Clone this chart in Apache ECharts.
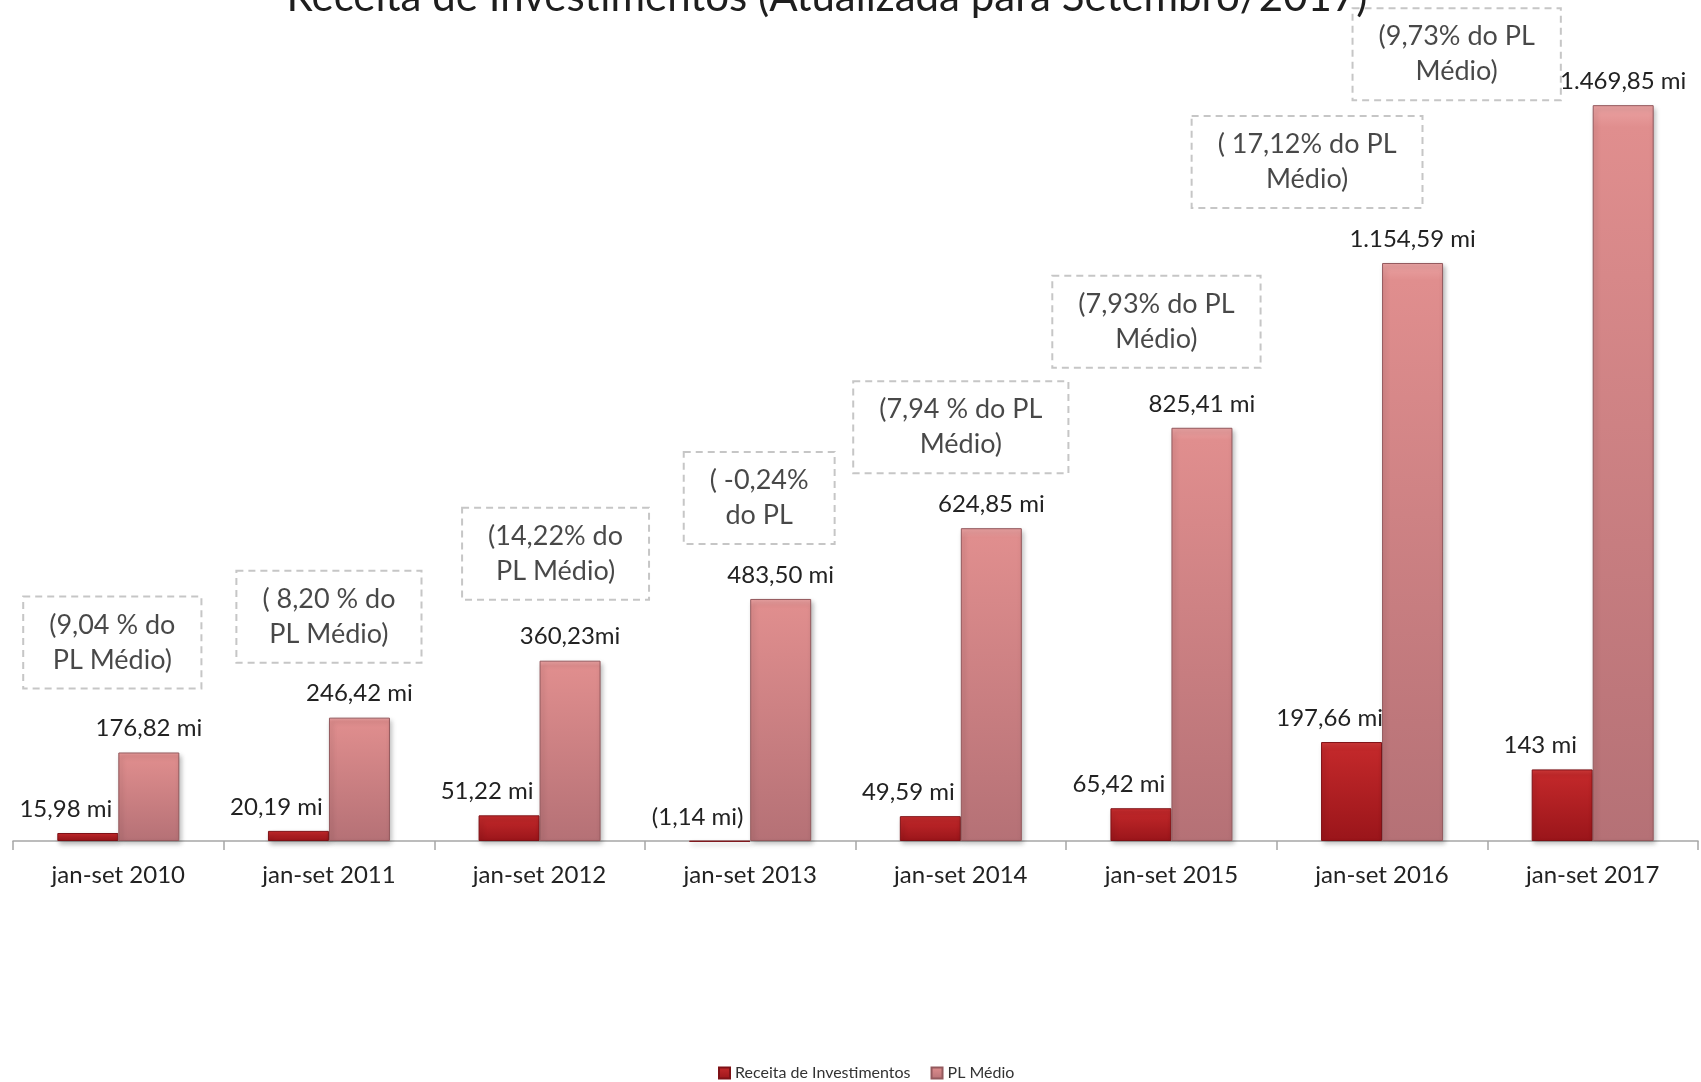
<!DOCTYPE html>
<html>
<head>
<meta charset="utf-8">
<script src="https://cdn.jsdelivr.net/npm/echarts@6/dist/echarts.min.js"></script>
<style>
  html, body { margin: 0; padding: 0; background: #fff; }
  #chart { width: 1701px; height: 1082px; }
</style>
</head>
<body>
<div id="chart"></div>
<script>
// dados (milhões de R$)
const categories = ['jan-set 2010', 'jan-set 2011', 'jan-set 2012', 'jan-set 2013',
  'jan-set 2014', 'jan-set 2015', 'jan-set 2016', 'jan-set 2017']
const receita = [15.98, 20.19, 51.22, -1.14, 49.59, 65.42, 197.66, 143]
const plMedio = [176.82, 246.42, 360.23, 483.50, 624.85, 825.41, 1154.59, 1469.85]
const receitaLabels = ['15,98 mi', '20,19 mi', '51,22 mi', '(1,14 mi)', '49,59 mi', '65,42 mi', '197,66 mi', '143 mi']
const plLabels = ['176,82 mi', '246,42 mi', '360,23mi', '483,50 mi', '624,85 mi', '825,41 mi', '1.154,59 mi', '1.469,85 mi']
const notes = [
  '(9,04 % do\nPL Médio)',
  '( 8,20 % do\nPL Médio)',
  '(14,22% do\nPL Médio)',
  '( -0,24%\ndo PL',
  '(7,94 % do PL\nMédio)',
  '(7,93% do PL\nMédio)',
  '( 17,12% do PL\nMédio)',
  '(9,73% do PL\nMédio)'
]

// deslocamento das caixas de anotação (layout)
const noteOffsets = [[-6, -6], [0, 3], [16, -3], [9, 3], [0, 3], [-15, -2], [-75, 3], [-136, 53]]

const FONT = 'Lato, "Open Sans", sans-serif'
const chart = echarts.init(document.getElementById('chart'))

chart.setOption({
  animation: false,
  graphic: [{
    type: 'text',
    x: 827,
    y: 18,
    style: {
      text: 'Receita de Investimentos (Atualizada para Setembro/2017)',
      font: '42px ' + FONT,
      fill: '#1e1e1e',
      textAlign: 'center',
      textVerticalAlign: 'bottom'
    }
  }],
  legend: {
    data: ['Receita de Investimentos', 'PL Médio'],
    left: 713,
    top: 1060,
    itemWidth: 11,
    itemHeight: 11,
    itemGap: 20,
    icon: 'rect',
    textStyle: { fontFamily: FONT, fontSize: 16, color: '#333' }
  },
  grid: { left: 13, right: 3, top: 40, bottom: 239 },
  xAxis: {
    type: 'category',
    data: categories,
    axisLine: { lineStyle: { color: '#a6a6a6', width: 1.5 } },
    axisTick: { show: true, length: 9, lineStyle: { color: '#a6a6a6', width: 1.5 } },
    axisLabel: { fontFamily: FONT, fontSize: 24, color: '#222', margin: 20 }
  },
  yAxis: {
    type: 'value',
    min: -4,
    max: 1600,
    show: false,
    splitLine: { show: false }
  },
  series: [
    {
      name: 'Receita de Investimentos',
      type: 'bar',
      data: receita,
      barWidth: 61,
      barGap: '0%',
      itemStyle: {
        color: new echarts.graphic.LinearGradient(0, 0, 0, 1, [
          { offset: 0, color: '#d23a3a' },
          { offset: 0.08, color: '#c2282a' },
          { offset: 1, color: '#9a151a' }
        ]),
        borderColor: '#7e1116',
        borderWidth: 1,
        shadowColor: 'rgba(0,0,0,0.3)',
        shadowBlur: 5,
        shadowOffsetX: 2,
        shadowOffsetY: 3
      },
      label: {
        show: true,
        position: 'top',
        distance: 12,
        offset: [-22, 0],
        fontFamily: FONT,
        fontSize: 24,
        color: '#222',
        formatter: p => receitaLabels[p.dataIndex]
      }
    },
    {
      name: 'PL Médio',
      type: 'bar',
      data: plMedio,
      barWidth: 61,
      itemStyle: {
        color: new echarts.graphic.LinearGradient(0, 0, 0, 1, [
          { offset: 0, color: '#eba3a3' },
          { offset: 0.03, color: '#e08e8e' },
          { offset: 1, color: '#b57176' }
        ]),
        borderColor: '#93595d',
        borderWidth: 1,
        shadowColor: 'rgba(0,0,0,0.3)',
        shadowBlur: 5,
        shadowOffsetX: 2,
        shadowOffsetY: 3
      },
      label: {
        show: true,
        position: 'top',
        distance: 12,
        fontFamily: FONT,
        fontSize: 24,
        color: '#222',
        formatter: p => plLabels[p.dataIndex]
      }
    },
    {
      name: 'notas',
      type: 'scatter',
      symbolSize: 2,
      itemStyle: { color: 'rgba(0,0,0,0)' },
      z: 5,
      data: plMedio,
      label: {
        show: true,
        position: 'top',
        distance: 57,
        fontFamily: FONT,
        fontSize: 27,
        lineHeight: 35,
        color: '#1a1a1a',
        align: 'center',
        padding: [11, 26],
        borderColor: '#b8b8b8',
        borderWidth: 2,
        borderType: [7, 5],
        formatter: p => notes[p.dataIndex]
      },
      labelLayout: p => ({
        dx: noteOffsets[p.dataIndex][0],
        dy: noteOffsets[p.dataIndex][1],
        hideOverlap: false
      })
    }
  ]
})
</script>
</body>
</html>
